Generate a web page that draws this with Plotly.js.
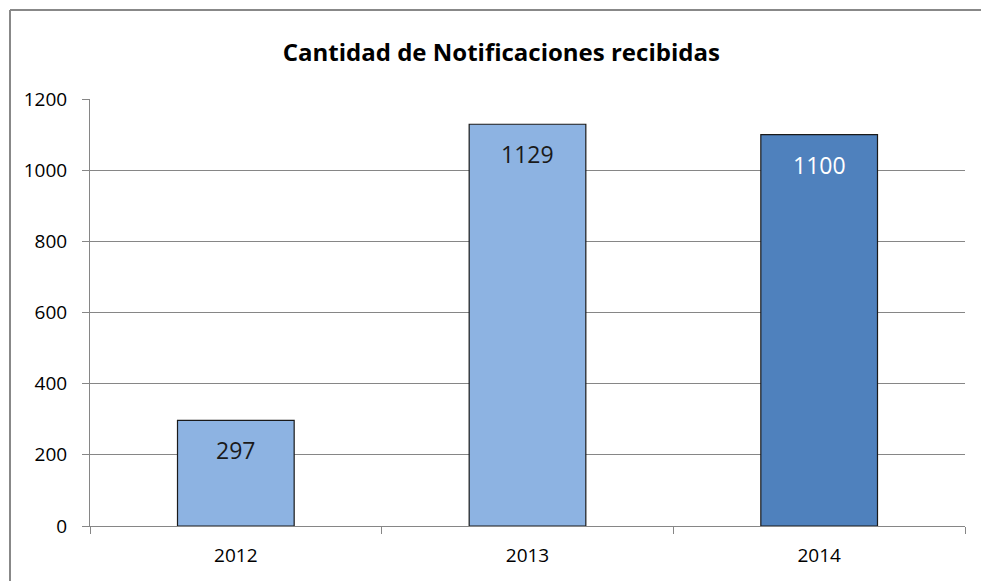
<!DOCTYPE html>
<html>
<head>
<meta charset="utf-8">
<script src="https://cdn.plot.ly/plotly-3.0.1.min.js"></script>
<style>html,body{margin:0;padding:0;background:#fff;}#chart{width:981px;height:581px;}</style>
</head>
<body>
<div id="chart"></div>
<script>
const years = ['2012', '2013', '2014'];
const notificaciones = [297, 1129, 1100];
const barColors = ['#8DB3E2', '#8DB3E2', '#4F81BD'];
const labelColors = ['#1a1a1a', '#1a1a1a', '#ffffff'];
const yTicks = [0, 200, 400, 600, 800, 1000, 1200];

const FONT = 'Open Sans, Liberation Sans, sans-serif';

const trace = {
  type: 'bar',
  x: years,
  y: notificaciones,
  marker: {color: barColors, line: {color: '#1a1a1a', width: 1.2}},
  hoverinfo: 'none'
};

const annotations = years.map((yr, i) => ({
  x: i, y: notificaciones[i], xref: 'x', yref: 'y',
  text: String(notificaciones[i]), showarrow: false,
  yanchor: 'middle', yshift: -30,
  font: {family: FONT, size: 23, color: labelColors[i]}
}));

const layout = {
  width: 981, height: 581,
  margin: {l: 90, r: 16, t: 99, b: 55, pad: 0},
  paper_bgcolor: '#ffffff', plot_bgcolor: '#ffffff',
  bargap: 0.6,
  showlegend: false,
  title: {text: 'Cantidad de Notificaciones recibidas', x: 0.511, xanchor: 'center', y: 0.91, yanchor: 'middle',
          font: {family: FONT, size: 24, color: '#000', weight: 'bold'}},
  xaxis: {
    type: 'category', range: [-0.5, 2.5], autorange: false, showgrid: false, showline: true, linecolor: '#868686', linewidth: 1,
    ticks: 'outside', tickson: 'boundaries', ticklen: 7, tickcolor: '#868686', tickwidth: 1,
    ticklabelstandoff: 12,
    tickfont: {family: FONT, size: 19, color: '#000'}, zeroline: false
  },
  yaxis: {
    range: [0, 1200], autorange: false, tickvals: yTicks, showgrid: true, gridcolor: '#868686', gridwidth: 1,
    showline: true, linecolor: '#868686', linewidth: 1,
    ticks: 'outside', ticklen: 7, tickcolor: '#868686', tickwidth: 1,
    ticklabelstandoff: 11,
    tickfont: {family: FONT, size: 19, color: '#000'}, zeroline: false
  },
  annotations: annotations
};
// outer frame (top and left only, as in the reference)
const pw = 981 - 90 - 16, ph = 581 - 99 - 55;
const fx = (px) => (px - 90) / pw, fy = (py) => (581 - 55 - py) / ph;
layout.shapes = [
  {type: 'line', xref: 'paper', yref: 'paper', x0: fx(10), x1: fx(990), y0: fy(10), y1: fy(10), line: {color: '#888', width: 2}},
  {type: 'line', xref: 'paper', yref: 'paper', x0: fx(10), x1: fx(10), y0: fy(10), y1: fy(600), line: {color: '#888', width: 2}}
];

Plotly.newPlot('chart', [trace], layout, {displayModeBar: false, staticPlot: true});
</script>
</body>
</html>
